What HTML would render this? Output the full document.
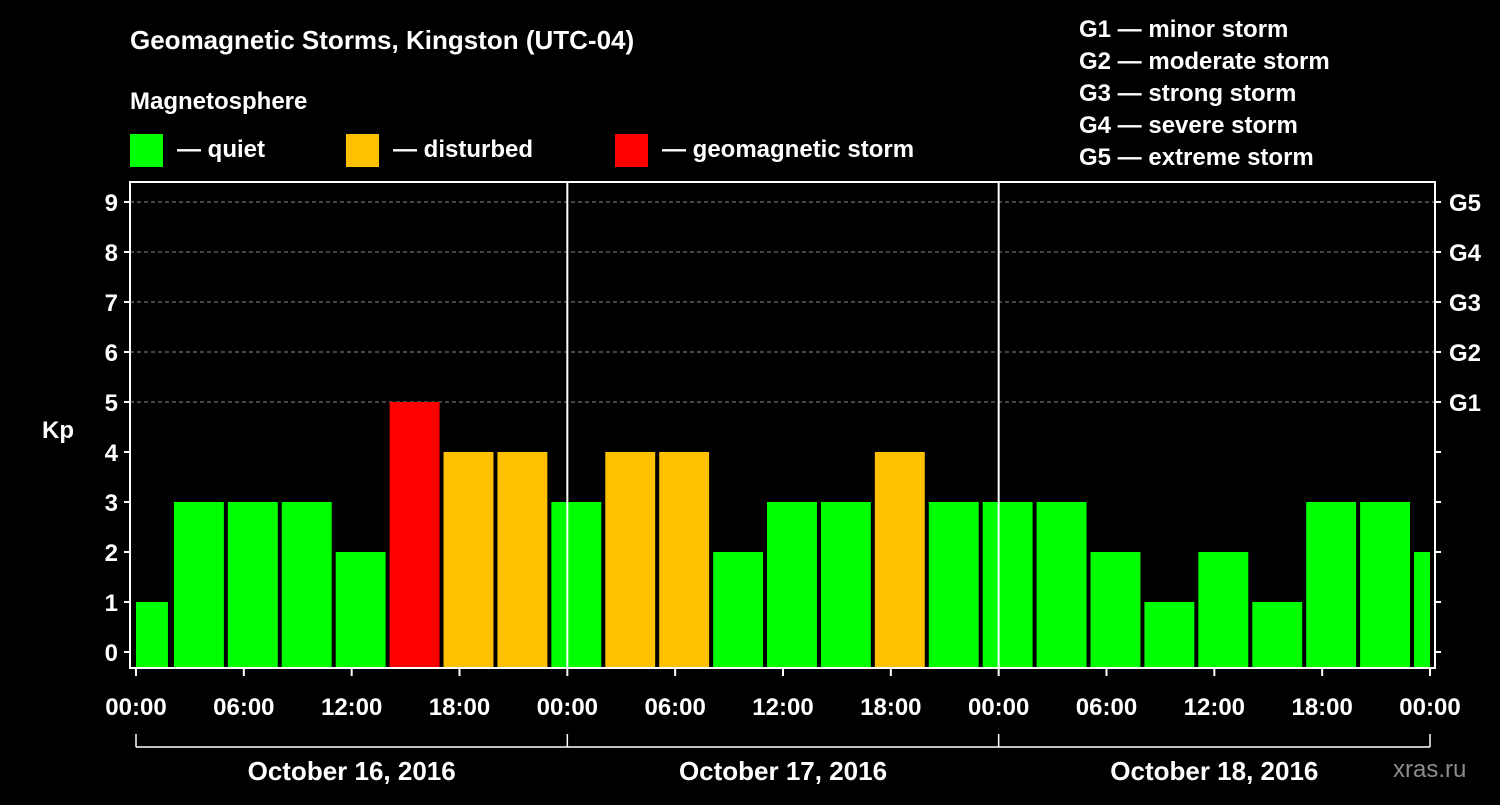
<!DOCTYPE html>
<html><head><meta charset="utf-8"><style>
body{margin:0;background:#000;width:1500px;height:800px;overflow:hidden}
svg text{font-family:"Liberation Sans",Arial,sans-serif;font-weight:bold;fill:#fff}
</style></head><body>
<svg id="c" width="1500" height="800" xmlns="http://www.w3.org/2000/svg">
<text x="130" y="49" font-size="26">Geomagnetic Storms, Kingston (UTC-04)</text>
<text x="130" y="109" font-size="24">Magnetosphere</text>
<g><rect x="130" y="134" width="33" height="33" fill="#00ff00"/><text x="177" y="157" font-size="24">— quiet</text></g>
<g><rect x="346" y="134" width="33" height="33" fill="#ffc000"/><text x="393" y="157" font-size="24">— disturbed</text></g>
<g><rect x="615" y="134" width="33" height="33" fill="#ff0000"/><text x="662" y="157" font-size="24">— geomagnetic storm</text></g>
<g font-size="24">
<text x="1079" y="37">G1 — minor storm</text><text x="1079" y="69">G2 — moderate storm</text><text x="1079" y="101">G3 — strong storm</text><text x="1079" y="133">G4 — severe storm</text><text x="1079" y="165">G5 — extreme storm</text></g>
<text x="42" y="438" font-size="24">Kp</text>
<text x="1393" y="777" font-size="24" fill="#888" style="fill:#8c8c8c;font-weight:normal">xras.ru</text>
<g id="plot"></g>
</svg>
<script>
const kpValues=[1,3,3,3,2,5,4,4,3,4,4,2,3,3,4,3,3,3,2,1,2,1,3,3,2];
const binStartHours=[-1,2,5,8,11,14,17,20,23,26,29,32,35,38,41,44,47,50,53,56,59,62,65,68,71];
const yTicks=[0,1,2,3,4,5,6,7,8,9];
const gLabels=["G1","G2","G3","G4","G5"];
const xTickLabels=["00:00","06:00","12:00","18:00","00:00","06:00","12:00","18:00","00:00","06:00","12:00","18:00","00:00"];
const dateLabels=["October 16, 2016","October 17, 2016","October 18, 2016"];
const NS="http://www.w3.org/2000/svg",g=document.getElementById('plot');
const L=130,R=1435,T=182,B=668,X0=136,X1=1430;
const x=h=>X0+(X1-X0)*h/72, y=v=>652-50*v;
function mk(t,a,p){const e=document.createElementNS(NS,t);for(const k in a)e.setAttribute(k,a[k]);(p||g).appendChild(e);return e;}
yTicks.forEach(v=>{if(v>=5){const l=mk('line',{x1:L,x2:R,y1:y(v),y2:y(v),stroke:'#888','stroke-dasharray':'4,3','stroke-width':1});

}});
kpValues.forEach((v,i)=>{const h0=Math.max(0,binStartHours[i]),h1=Math.min(72,binStartHours[i]+3);
const c=v>=5?'#ff0000':v>=4?'#ffc000':'#00ff00';
const r=mk('rect',{x:x(h0)+(binStartHours[i]<0?0:2),y:y(v),width:x(h1)-x(h0)-(binStartHours[i]<0?4:(h1<binStartHours[i]+3?2:4)),height:B-y(v),fill:c});

});
[24,48].forEach(h=>{const l=mk('line',{x1:x(h),x2:x(h),y1:T,y2:B,stroke:'#fff','stroke-width':2});

});
const f=mk('rect',{x:L,y:T,width:R-L,height:B-T,fill:'none',stroke:'#fff','stroke-width':2});


yTicks.forEach(v=>{mk('line',{x1:L-6,x2:L,y1:y(v),y2:y(v),stroke:'#fff','stroke-width':2});mk('line',{x1:R,x2:R+6,y1:y(v),y2:y(v),stroke:'#fff','stroke-width':2});
const t=mk('text',{x:L-12,y:y(v)+9,'font-size':24,'text-anchor':'end'});t.textContent=v;


if(v>=5){const gt=mk('text',{x:R+14,y:y(v)+9,'font-size':24});gt.textContent=gLabels[v-5];

}});
xTickLabels.forEach((s,i)=>{const h=i*6;mk('line',{x1:x(h),x2:x(h),y1:B,y2:B+8,stroke:'#fff','stroke-width':2});
const t=mk('text',{x:x(h),y:715,'font-size':24,'text-anchor':'middle'});t.textContent=s;

});
mk('line',{x1:X0,x2:X1,y1:747,y2:747,stroke:'#fff','stroke-width':1.5});
[0,24,48,72].forEach(h=>mk('line',{x1:x(h),x2:x(h),y1:734,y2:747,stroke:'#fff','stroke-width':1.5}));
dateLabels.forEach((s,i)=>{const t=mk('text',{x:x(i*24+12),y:780,'font-size':26,'text-anchor':'middle'});t.textContent=s;

});
</script>
</body></html>
